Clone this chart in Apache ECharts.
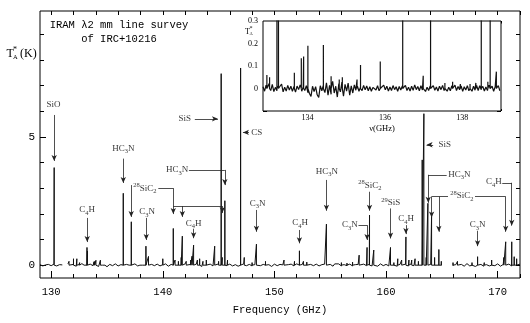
<!DOCTYPE html>
<html>
<head>
<meta charset="utf-8">
<script src="https://cdn.jsdelivr.net/npm/echarts@6/dist/echarts.min.js"></script>
<style>
html,body{margin:0;padding:0;background:#fff}
#chart{width:530px;height:323px}
</style>
</head>
<body>
<div id="chart"></div>
<script>
// Spectral lines: rest frequency (GHz) and peak antenna temperature T*A (K)
const lineFreqs = [
  130.27, 131.6, 132.0, 132.3, 132.55, 132.95, 133.02, 133.21, 133.25, 133.66,
  133.84, 133.9, 134.01, 134.41, 134.61, 134.82, 134.9, 135.28, 135.37, 135.88,
  136.46, 136.99, 137.18, 137.55, 137.75, 137.95, 138.2, 138.35, 138.49, 138.66,
  138.72, 138.88, 139.5, 140.0, 140.3, 140.94, 141.1, 141.4, 141.65, 141.75,
  142.1, 142.5, 142.62, 142.76, 143.1, 143.3, 143.6, 143.9, 144.65, 145.0,
  145.23, 145.33, 145.56, 145.8, 146.97, 147.3, 148.0, 148.39, 149.2, 150.86,
  151.6, 151.8, 152.0, 152.24, 152.6, 152.9, 153.4, 154.66, 155.4, 156.0,
  156.5, 157.0, 157.59, 158.3, 158.52, 158.9, 159.5, 160.1, 160.4, 160.7,
  161.05, 161.4, 161.78, 162.05, 162.3, 162.6, 162.9, 163.24, 163.39, 163.6,
  163.75, 164.08, 164.35, 164.73, 164.95, 166.0, 166.4, 166.8, 167.3, 167.7,
  168.2, 168.8, 169.46, 170.0, 170.55, 170.72, 171.26, 171.48, 171.7
];
const linePeaks = [
  3.8, 0.15, 0.25, 0.25, 0.1, 0.06, 0.05, 0.69, 0.55, 0.07,
  0.135, 0.142, 0.19, 0.193, 0.054, 0.04, 0.05, 0.04, 0.105, 0.12,
  2.8, 0.057, 1.69, 0.025, 0.03, 0.02, 0.02, 0.025, 0.74, 0.03,
  0.34, 0.075, 0.1, 0.25, 0.1, 1.43, 0.2, 0.15, 0.3, 1.13,
  0.15, 0.2, 0.35, 0.78, 0.2, 0.25, 0.15, 0.2, 0.74, 0.15,
  7.46, 0.3, 2.51, 0.2, 7.68, 0.3, 0.1, 0.82, 0.15, 0.2,
  0.1, 0.15, 0.12, 0.56, 0.15, 0.12, 0.05, 1.6, 0.05, 0.1,
  0.08, 0.12, 0.39, 0.69, 1.95, 0.59, 0.1, 0.1, 0.69, 0.1,
  0.25, 0.2, 1.1, 0.2, 0.2, 0.25, 0.15, 4.1, 5.9, 0.3,
  2.41, 1.95, 0.3, 0.61, 0.15, 0.1, 0.15, 0.1, 0.12, 0.1,
  0.33, 0.1, 0.2, 0.1, 0.3, 0.91, 0.91, 0.33, 0.25
];

// Survey baseline (K), sampled every 0.25 GHz from 129 GHz
const mainNoiseStart = 129.0;
const mainNoiseStep = 0.25;
const mainNoise = [
  0.02,-0.03,0.01,0.03,-0.02,0.04,-0.03,0.02,0.01,-0.02,
  0.05,-0.02,0.03,-0.04,0.02,0.06,-0.03,0.01,0.04,-0.02,
  0.03,-0.05,0.02,0.04,-0.06,0.03,-0.02,0.05,-0.03,0.02,
  -0.02,0.03,-0.04,0.02,0.05,-0.03,0.01,-0.02,0.04,-0.05,
  0.03,-0.02,0.04,-0.03,0.02,0.05,-0.04,0.03,-0.02,0.04,
  -0.03,0.02,0.05,-0.04,0.03,-0.02,0.04,0.02,-0.05,0.03,
  -0.02,0.04,-0.03,0.02,0.05,-0.04,0.03,-0.02,0.04,-0.03,
  0.02,-0.04,0.03,0.05,-0.02,0.03,-0.03,0.02,0.04,-0.02,
  0.03,-0.03,0.02,-0.05,0.04,-0.02,0.03,0.01,-0.04,0.02,
  0.04,-0.03,0.05,-0.06,0.03,0.02,-0.04,0.03,-0.02,0.04,
  -0.03,0.02,0.04,-0.02,0.03,-0.04,0.02,0.05,-0.03,0.02,
  -0.02,0.04,-0.03,0.02,0.03,-0.05,0.04,-0.02,0.03,-0.03,
  0.02,-0.04,0.05,-0.02,0.03,-0.03,0.04,0.02,-0.04,0.03,
  -0.02,0.04,-0.03,0.05,-0.02,0.03,-0.04,0.02,0.04,-0.03,
  0.03,-0.02,0.04,-0.03,0.02,-0.04,0.03,0.05,-0.03,0.02,
  -0.05,0.03,-0.04,0.06,-0.03,0.04,-0.05,0.02,0.03,-0.04,
  0.02,-0.03,0.04,-0.02,0.05,-0.04,0.03,-0.02,0.04,-0.03,
  0.03,-0.02,0.04
];
// Frequency ranges not covered by the survey (GHz)
const surveyGaps = [[131.05, 131.5], [165.1, 165.8]];

// Zoomed baseline (mK), sampled every 0.04 GHz from 132.85 GHz
const insetNoiseStart = 132.85;
const insetNoiseStep = 0.04;
const insetNoiseMilliK = [
  8,-12,15,-6,22,-9,18,-14,5,-10,
  12,-8,20,-15,6,-11,14,-7,10,-13,
  9,-16,11,-5,16,-12,7,-9,13,-18,
  -22,-35,10,-14,8,-28,-40,12,-10,15,
  -18,25,-30,14,-26,32,-20,10,-38,22,
  -15,28,-34,18,-12,24,-30,12,-20,16,
  -8,10,-12,6,-9,14,-6,11,-10,8,
  -12,5,9,-7,12,-10,6,-8,15,-6,
  10,-11,7,-9,13,-5,8,-12,9,-7,
  11,-6,14,-9,6,-11,10,-8,16,-5,
  9,-10,12,-7,8,-13,6,-9,11,-6,
  13,-8,7,-11,10,-5,14,-9,8,-12,
  6,-10,12,-7,15,-9,9,-6,11,-13,
  8,-7,13,-10,6,-12,10,-8,14,-9,
  12,-6,9,-11,7,-9,15,-6,10,-12,
  8,-7,13,-10
];

// Axis ticks and labels
const xTickLabels = [130, 140, 150, 160, 170];
const xMinorTicks = [130,132,134,136,138,140,142,144,146,148,150,152,154,156,158,160,162,164,166,168,170,172];
const yTickLabels = [0, 5];
const yMinorTicks = [0,1,2,3,4,5,6,7,8,9];
const insetXLabels = [134, 136, 138];
const insetXMinor = [133,133.5,134,134.5,135,135.5,136,136.5,137,137.5,138,138.5,139];
const insetYLabels = [0, 0.1, 0.2, 0.3];
const insetYTicks = [-0.1, 0, 0.1, 0.2, 0.3];

// Molecule identifications: label centre and leader paths (data coordinates)
const callouts = [
  { text: 'SiO', at: [130.2, 6.25], paths: [[[130.27, 5.85], [130.27, 4.06]]] },
  { text: 'C{s|4}H', at: [133.23, 2.15], paths: [[[133.23, 1.84], [133.23, 0.9]]] },
  { text: 'HC{s|3}N', at: [136.46, 4.55], paths: [[[136.46, 4.15], [136.46, 3.2]]] },
  { text: '{p|28}SiC{s|2}', at: [138.39, 3.0], paths: [
    [[137.17, 3.12], [137.17, 1.88]],
    [[139.6, 3.0], [140.94, 3.0], [140.94, 1.99]],
    [[140.94, 2.3], [145.33, 2.3], [145.33, 2.03]],
    [[141.75, 2.3], [141.75, 1.88]]
  ] },
  { text: 'C{s|3}N', at: [138.6, 2.07], paths: [[[138.52, 1.84], [138.52, 0.98]]] },
  { text: 'C{s|4}H', at: [142.76, 1.62], paths: [[[142.76, 1.42], [142.76, 1.05]]] },
  { text: 'HC{s|3}N', at: [141.28, 3.71], paths: [[[142.34, 3.71], [145.56, 3.71], [145.56, 3.12]]] },
  { text: 'SiS', at: [141.97, 5.7], paths: [[[142.87, 5.7], [144.94, 5.7]]] },
  { text: 'CS', at: [148.41, 5.17], paths: [[[147.72, 5.17], [147.18, 5.17]]] },
  { text: 'C{s|3}N', at: [148.5, 2.41], paths: [[[148.39, 2.15], [148.39, 1.3]]] },
  { text: 'C{s|4}H', at: [152.31, 1.64], paths: [[[152.24, 1.37], [152.24, 0.85]]] },
  { text: 'HC{s|3}N', at: [154.69, 3.65], paths: [[[154.66, 3.32], [154.66, 2.12]]] },
  { text: '{p|28}SiC{s|2}', at: [158.55, 3.1], paths: [[[158.52, 2.86], [158.52, 2.12]]] },
  { text: 'C{s|3}N', at: [156.75, 1.56], paths: [[[157.53, 1.56], [158.3, 1.56], [158.3, 0.98]]] },
  { text: '{p|29}SiS', at: [160.43, 2.42], paths: [[[160.4, 2.21], [160.4, 1.04]]] },
  { text: 'C{s|4}H', at: [161.8, 1.8], paths: [[[161.78, 1.56], [161.78, 1.21]]] },
  { text: 'SiS', at: [165.27, 4.69], paths: [[[164.22, 4.69], [163.63, 4.69]]] },
  { text: 'HC{s|3}N', at: [166.57, 3.52], paths: [[[165.43, 3.52], [163.78, 3.52], [163.78, 2.43]]] },
  { text: '{p|28}SiC{s|2}', at: [166.8, 2.7], paths: [
    [[165.55, 2.67], [164.08, 2.67], [164.08, 1.86]],
    [[164.73, 2.67], [164.73, 1.3]],
    [[167.97, 2.67], [170.72, 2.67], [170.72, 1.3]]
  ] },
  { text: 'C{s|3}N', at: [168.2, 1.56], paths: [[[168.2, 1.34], [168.2, 0.74]]] },
  { text: 'C{s|4}H', at: [169.67, 3.24], paths: [[[170.41, 3.21], [171.26, 3.21], [171.26, 1.54]]] }
];

// Merge a sampled baseline with the line spikes into one sorted trace
function buildSpectrum(start, step, noise, scale, lo, hi, gaps) {
  const pts = [];
  noise.forEach(function (v, i) {
    const f = +(start + i * step).toFixed(4);
    if (f < lo || f > hi) return;
    if (gaps.some(function (g) { return f > g[0] && f < g[1]; })) return;
    pts.push([f, v * scale]);
  });
  lineFreqs.forEach(function (f, i) {
    if (f < lo || f > hi) return;
    pts.push([f, 0], [f, linePeaks[i]], [f, 0]);
  });
  gaps.forEach(function (g) { pts.push([(g[0] + g[1]) / 2, NaN]); });
  pts.sort(function (a, b) { return a[0] - b[0]; });
  return pts.map(function (p) { return isNaN(p[1]) ? [p[0], '-'] : p; });
}

const mainTrace = buildSpectrum(mainNoiseStart, mainNoiseStep, mainNoise, 1, 129, 172, surveyGaps);
const insetTrace = buildSpectrum(insetNoiseStart, insetNoiseStep, insetNoiseMilliK, 0.001, 132.8, 139.05, []);

// Leader lines: every path becomes segments, the last one ending in an arrow head
const leaderSegments = [];
callouts.forEach(function (c) {
  c.paths.forEach(function (path) {
    for (let k = 0; k < path.length - 1; k++) {
      const last = k === path.length - 2;
      leaderSegments.push([
        { coord: path[k], symbol: 'none' },
        { coord: path[k + 1], symbol: last ? 'arrow' : 'none', symbolSize: [4, 6] }
      ]);
    }
  });
});

const MONO = '"Liberation Mono", monospace';
const SERIF = '"Liberation Serif", serif';
const ink = '#000';

function tickAxis(extra) {
  const base = {
    type: 'value',
    axisLine: { show: false, onZero: false },
    splitLine: { show: false },
    axisLabel: { show: false },
    axisTick: { show: true, inside: true, length: 4, lineStyle: { color: ink, width: 1 } },
    silent: true
  };
  const out = Object.assign({}, base, extra);
  if (extra.axisTick) out.axisTick = Object.assign({}, base.axisTick, extra.axisTick);
  if (extra.axisLabel) out.axisLabel = Object.assign({}, base.axisLabel, extra.axisLabel);
  return out;
}

const chart = echarts.init(document.getElementById('chart'), null, { renderer: 'canvas' });

chart.setOption({
  animation: false,
  backgroundColor: '#fff',
  grid: [
    { left: 40, top: 11, width: 480, height: 267, show: true, borderColor: ink, borderWidth: 1, backgroundColor: 'transparent' },
    { left: 263, top: 21, width: 238, height: 90, show: true, borderColor: ink, borderWidth: 1, backgroundColor: '#fff', z: 3 }
  ],
  xAxis: [
    tickAxis({ gridIndex: 0, min: 129, max: 172, position: 'bottom',
      axisTick: { customValues: xTickLabels, length: 7 },
      axisLabel: { show: true, customValues: xTickLabels, margin: 9, color: ink, fontFamily: MONO, fontSize: 10.5 },
      name: 'Frequency (GHz)', nameLocation: 'middle', nameGap: 27,
      nameTextStyle: { color: ink, fontFamily: MONO, fontSize: 10.5 } }),
    tickAxis({ gridIndex: 0, min: 129, max: 172, position: 'bottom', axisTick: { customValues: xMinorTicks, length: 4 } }),
    tickAxis({ gridIndex: 0, min: 129, max: 172, position: 'top', axisTick: { customValues: xMinorTicks, length: 4 } }),
    tickAxis({ gridIndex: 1, min: 132.85, max: 139, position: 'bottom',
      axisTick: { customValues: insetXLabels, length: 4 },
      axisLabel: { show: true, customValues: insetXLabels, margin: 3, color: ink, fontFamily: SERIF, fontSize: 8 },
      name: 'ν(GHz)', nameLocation: 'middle', nameGap: 13,
      nameTextStyle: { color: ink, fontFamily: SERIF, fontSize: 8.5 } }),
    tickAxis({ gridIndex: 1, min: 132.85, max: 139, position: 'bottom', axisTick: { customValues: insetXMinor, length: 2 } }),
    tickAxis({ gridIndex: 1, min: 132.85, max: 139, position: 'top', axisTick: { customValues: insetXMinor, length: 2.5 } })
  ],
  yAxis: [
    tickAxis({ gridIndex: 0, min: -0.5, max: 9.9, position: 'left',
      axisTick: { customValues: yTickLabels, length: 6 },
      axisLabel: { show: true, customValues: yTickLabels, margin: 5, color: ink, fontFamily: MONO, fontSize: 11 } }),
    tickAxis({ gridIndex: 0, min: -0.5, max: 9.9, position: 'left', axisTick: { customValues: yMinorTicks, length: 4 } }),
    tickAxis({ gridIndex: 0, min: -0.5, max: 9.9, position: 'right', axisTick: { customValues: yMinorTicks, length: 4 } }),
    tickAxis({ gridIndex: 1, min: -0.1, max: 0.3, interval: 0.1, position: 'left',
      axisTick: { customValues: insetYTicks, length: 4 },
      minorTick: { show: true, splitNumber: 2, length: 2, lineStyle: { color: ink } },
      axisLabel: { show: true, customValues: insetYLabels, margin: 5, color: ink, fontFamily: SERIF, fontSize: 8 } }),
    tickAxis({ gridIndex: 1, min: -0.1, max: 0.3, interval: 0.1, position: 'right',
      axisTick: { customValues: insetYTicks, length: 4 },
      minorTick: { show: true, splitNumber: 2, length: 2, lineStyle: { color: ink } } })
  ],
  graphic: [
    { type: 'text', x: 119, y: 18, silent: true,
      style: { text: 'IRAM λ2 mm line survey\nof IRC+10216', textAlign: 'center', textVerticalAlign: 'top',
        font: '10.5px ' + MONO, lineHeight: 14, fill: ink } },
    { type: 'text', x: 6.5, y: 54, silent: true,
      style: { text: 'T', textAlign: 'left', textVerticalAlign: 'middle', font: '12px ' + SERIF, fill: ink } },
    { type: 'text', x: 13, y: 49.5, silent: true,
      style: { text: '*', textAlign: 'left', textVerticalAlign: 'middle', font: '8px ' + SERIF, fill: ink } },
    { type: 'text', x: 13, y: 57, silent: true,
      style: { text: 'A', textAlign: 'left', textVerticalAlign: 'middle', font: '6.5px ' + SERIF, fill: ink } },
    { type: 'text', x: 20, y: 53.5, silent: true,
      style: { text: '(K)', textAlign: 'left', textVerticalAlign: 'middle', font: '12px ' + SERIF, fill: ink } },
    { type: 'text', x: 245, y: 31.5, silent: true, z: 10,
      style: { text: 'T', textAlign: 'left', textVerticalAlign: 'middle', font: '8px ' + SERIF, fill: ink } },
    { type: 'text', x: 249.5, y: 28.8, silent: true, z: 10,
      style: { text: '*', textAlign: 'left', textVerticalAlign: 'middle', font: '6px ' + SERIF, fill: ink } },
    { type: 'text', x: 249.5, y: 34, silent: true, z: 10,
      style: { text: 'A', textAlign: 'left', textVerticalAlign: 'middle', font: '4.5px ' + SERIF, fill: ink } }
  ],
  series: [
    {
      name: 'survey', type: 'line', xAxisIndex: 0, yAxisIndex: 0,
      data: mainTrace, showSymbol: false, symbol: 'none', connectNulls: false,
      lineStyle: { color: '#111', width: 1 }, silent: true, z: 2,
      markLine: {
        silent: true, animation: false, symbol: ['none', 'none'],
        label: { show: false }, emphasis: { disabled: true },
        lineStyle: { color: '#222', width: 0.8, type: 'solid' },
        data: leaderSegments
      }
    },
    {
      name: 'molecules', type: 'scatter', xAxisIndex: 0, yAxisIndex: 0,
      symbolSize: 1, itemStyle: { color: 'rgba(0,0,0,0)' }, silent: true, z: 4,
      data: callouts.map(function (c) { return { value: c.at, label: { formatter: c.text } }; }),
      label: {
        show: true, position: 'inside', color: ink, fontFamily: SERIF, fontSize: 9, lineHeight: 13,
        rich: {
          s: { fontFamily: SERIF, fontSize: 6.5, lineHeight: 6.5, verticalAlign: 'bottom', color: ink },
          p: { fontFamily: SERIF, fontSize: 6.5, lineHeight: 6.5, verticalAlign: 'top', color: ink }
        }
      }
    },
    {
      name: 'zoom', type: 'line', xAxisIndex: 3, yAxisIndex: 3,
      data: insetTrace, showSymbol: false, symbol: 'none', clip: true,
      lineStyle: { color: '#111', width: 1.2 }, silent: true, z: 5
    }
  ]
});
</script>
</body>
</html>
